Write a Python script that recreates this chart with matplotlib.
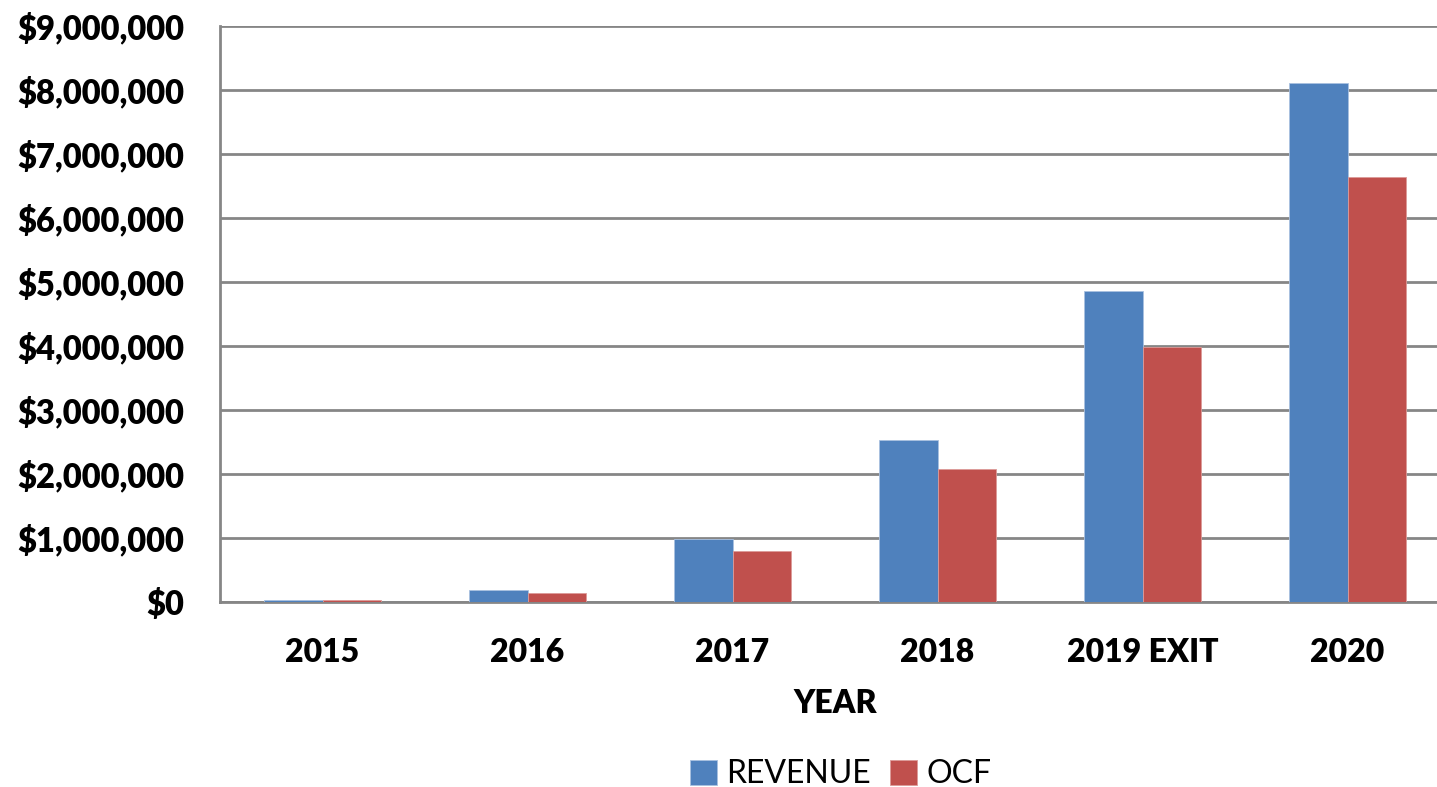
import numpy as np
import matplotlib
matplotlib.use("Agg")
import matplotlib.pyplot as plt
from matplotlib.ticker import FuncFormatter, MultipleLocator

# ── data ─────────────────────────────────────────────
YEARS = ["2015", "2016", "2017", "2018", "2019 EXIT", "2020"]
REVENUE = [30000, 180000, 980000, 2530000, 4860000, 8110000]
OCF = [25000, 140000, 800000, 2080000, 3980000, 6640000]

BLUE = '#4F81BD'
RED = '#C0504D'
GRID = '#868686'

plt.rcParams['font.family'] = ['Lato', 'DejaVu Sans']

fig = plt.figure(figsize=(14.37, 7.87), dpi=100)
ax = fig.add_axes([0.1531, 0.2351, 0.856, 0.7319])

x = np.arange(len(YEARS))
w = 0.285
ax.bar(x - w / 2, REVENUE, w, color=BLUE, edgecolor='#a9c1e0',
       linewidth=0.6, label='REVENUE', zorder=3)
ax.bar(x + w / 2, OCF, w, color=RED, edgecolor='#dc9a98',
       linewidth=0.6, label='OCF', zorder=3)

ax.set_xlim(-0.5, 5.5)
ax.set_ylim(0, 9000000)
ax.yaxis.set_major_locator(MultipleLocator(1000000))
ax.yaxis.set_major_formatter(FuncFormatter(lambda v, p: f'${v:,.0f}'))
ax.grid(axis='y', color=GRID, linewidth=2, zorder=0)

ax.set_xticks(x)
ax.set_xticklabels(YEARS)
ax.tick_params(axis='both', length=0)
ax.tick_params(axis='x', pad=26, labelsize=23)
ax.tick_params(axis='y', pad=26, labelsize=23.5)
for lbl in ax.get_xticklabels() + ax.get_yticklabels():
    lbl.set_fontweight('heavy')

ax.set_xlabel('YEAR', fontsize=23, fontweight='heavy', labelpad=16)

for s in ['top', 'right']:
    ax.spines[s].set_visible(False)
ax.spines['left'].set_color(GRID)
ax.spines['left'].set_linewidth(2)
ax.spines['bottom'].set_color(GRID)
ax.spines['bottom'].set_linewidth(2)

fig.legend(loc='center', bbox_to_anchor=(0.585, 0.016), ncol=2,
           frameon=False, fontsize=23, handlelength=0.85, handleheight=0.85,
           handletextpad=0.3, columnspacing=0.6)

fig.savefig('out.png', dpi=100, facecolor='white')
